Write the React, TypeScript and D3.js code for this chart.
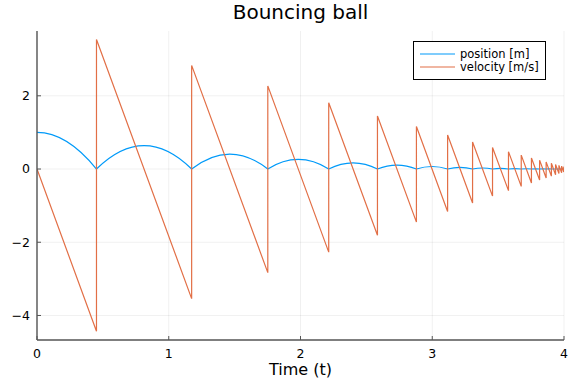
import React from 'react';
import * as d3 from 'd3';

const bounceTimes = [
  0.4515, 1.1738, 1.7518, 2.2142, 2.5841, 2.8799, 3.1166, 3.306, 3.4575, 3.5786,
  3.6754, 3.7529, 3.8149, 3.8644, 3.9042, 3.936, 3.9615, 3.9819, 3.9982,
];
// velocity just before each bounce (m/s)
const velocityIn = [
  -4.43, -3.54, -2.83, -2.27, -1.81, -1.45, -1.16, -0.93, -0.74, -0.59, -0.475,
  -0.38, -0.3, -0.243, -0.195, -0.156, -0.125, -0.1, -0.08,
];
// velocity just after each bounce (m/s)
const velocityOut = [
  3.54, 2.83, 2.27, 1.81, 1.45, 1.16, 0.93, 0.74, 0.59, 0.475, 0.38, 0.3, 0.243,
  0.195, 0.156, 0.125, 0.1, 0.08, 0.064,
];
// apex height of each arc after a bounce (m)
const peakHeights = [
  0.639, 0.409, 0.262, 0.168, 0.107, 0.069, 0.044, 0.028, 0.018, 0.0115, 0.0074,
  0.0047, 0.003, 0.0019, 0.0012, 0.0008, 0.0005, 0.0003, 0.0002,
];
const startHeight = 1;
const endTime = 4;
const endVelocity = 0.046;

const xTicks = [0, 1, 2, 3, 4];
const yTicks = [-4, -2, 0, 2];

const width = 576;
const height = 384;
const margin = { left: 37, right: 12, top: 31, bottom: 44 };

const BLUE = '#009af9';
const ORANGE = '#e26f46';

const App = () => {
  const x = d3.scaleLinear().domain([0, 4]).range([margin.left, width - margin.right]);
  const y = d3.scaleLinear().domain([-4.67, 3.77]).range([height - margin.bottom, margin.top]);

  // position: parabolic arcs as quadratic beziers
  const pos = d3.path();
  pos.moveTo(x(0), y(startHeight));
  pos.quadraticCurveTo(x(bounceTimes[0] / 2), y(startHeight), x(bounceTimes[0]), y(0));
  bounceTimes.forEach((t0, i) => {
    const t1 = i + 1 < bounceTimes.length ? bounceTimes[i + 1] : t0 + (bounceTimes[i] - bounceTimes[i - 1]) * 0.8;
    const mid = (t0 + t1) / 2;
    pos.quadraticCurveTo(x(mid), y(2 * peakHeights[i]), x(t1), y(0));
  });

  const velPoints: [number, number][] = [[0, 0]];
  bounceTimes.forEach((t, i) => {
    velPoints.push([t, velocityIn[i]]);
    velPoints.push([t, velocityOut[i]]);
  });
  velPoints.push([endTime, endVelocity]);
  const velLine = d3
    .line<[number, number]>()
    .x((d) => x(d[0]))
    .y((d) => y(d[1]));

  const x0 = margin.left;
  const x1 = width - margin.right;
  const y0 = height - margin.bottom;
  const y1 = margin.top;
  const font = "'DejaVu Sans', sans-serif";

  return (
    <svg
      width={width}
      height={height}
      style={{ position: 'absolute', left: 0, top: 0, background: '#fff' }}
      fontFamily={font}
    >
      <defs>
        <clipPath id="plotclip">
          <rect x={x0} y={y1} width={x1 - x0} height={y0 - y1} />
        </clipPath>
      </defs>
      {/* grid */}
      {xTicks.map((t) => (
        <line key={'gx' + t} x1={x(t)} x2={x(t)} y1={y0} y2={y1} stroke="#000" strokeOpacity={0.1} strokeWidth={0.6} />
      ))}
      {yTicks.map((t) => (
        <line key={'gy' + t} x1={x0} x2={x1} y1={y(t)} y2={y(t)} stroke="#000" strokeOpacity={0.1} strokeWidth={0.6} />
      ))}

      <g clipPath="url(#plotclip)" fill="none">
        <path d={pos.toString()} stroke={BLUE} strokeWidth={1.2} />
        <path d={velLine(velPoints) || undefined} stroke={ORANGE} strokeWidth={1.2} />
      </g>

      {/* axes */}
      <line x1={x0} x2={x0} y1={y0} y2={y1} stroke="#555" strokeWidth={1.4} />
      <line x1={x0} x2={x1} y1={y0} y2={y0} stroke="#555" strokeWidth={1.4} />
      {yTicks.map((t) => (
        <g key={'ty' + t}>
          <line x1={x0} x2={x0 + 4} y1={y(t)} y2={y(t)} stroke="#555" strokeWidth={1} />
          <text x={x0 - 7} y={y(t)} dy="0.35em" textAnchor="end" fontSize={12.5} fill="#000">
            {t < 0 ? '\u2212' + Math.abs(t) : t}
          </text>
        </g>
      ))}
      {xTicks.map((t) => (
        <g key={'tx' + t}>
          <line x1={x(t)} x2={x(t)} y1={y0} y2={y0 - 4} stroke="#555" strokeWidth={1} />
          <text x={x(t)} y={y0 + 18} textAnchor="middle" fontSize={12.5} fill="#000">
            {t}
          </text>
        </g>
      ))}

      <text x={(x0 + x1) / 2} y={19} textAnchor="middle" fontSize={20} fill="#000">
        Bouncing ball
      </text>
      <text x={(x0 + x1) / 2} y={375} textAnchor="middle" fontSize={16} fill="#000">
        Time (t)
      </text>

      {/* legend */}
      <g>
        <rect x={413.5} y={41.5} width={132} height={38} fill="#fff" stroke="#000" strokeWidth={1} />
        <line x1={420} x2={455} y1={54} y2={54} stroke={BLUE} strokeWidth={1.2} />
        <line x1={420} x2={455} y1={67} y2={67} stroke={ORANGE} strokeWidth={1.2} />
        <text x={460} y={54} dy="0.35em" fontSize={11.5} fill="#000">
          position [m]
        </text>
        <text x={460} y={67} dy="0.35em" fontSize={11.5} fill="#000">
          velocity [m/s]
        </text>
      </g>
    </svg>
  );
};

export default App;
